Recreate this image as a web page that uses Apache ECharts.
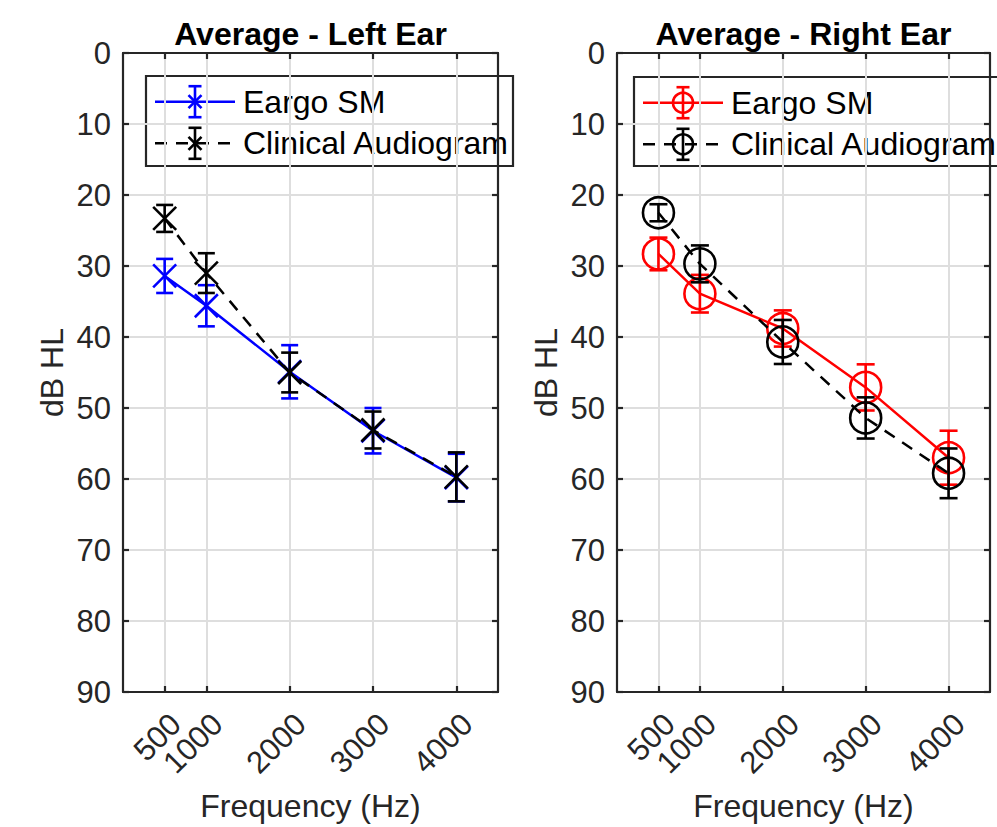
<!DOCTYPE html>
<html><head><meta charset="utf-8">
<script src="https://cdn.jsdelivr.net/npm/echarts@6/dist/echarts.min.js"></script>
<style>html,body{margin:0;padding:0;background:#fff}#c{width:997px;height:827px}</style>
</head><body><div id="c"></div>
<script>
// ---- data ----
const frequencies = [500, 1000, 2000, 3000, 4000];
const xTickValues = [500, 1000, 2000, 3000, 4000];
const leftEargo = [31.4, 35.6, 44.9, 53.2, 59.8];
const leftEargoErr = [2.4, 2.9, 3.75, 3.2, 3.35];
const leftClinical = [23.3, 31.0, 45.0, 53.1, 59.7];
const leftClinicalErr = [1.9, 2.8, 2.8, 2.6, 3.45];
const rightEargo = [28.3, 33.9, 38.8, 47.1, 57.0];
const rightEargoErr = [2.3, 2.65, 2.55, 3.25, 3.8];
const rightClinical = [22.5, 29.7, 40.7, 51.4, 59.2];
const rightClinicalErr = [1.2, 2.6, 3.1, 2.9, 3.5];
const titles = ['Average - Left Ear', 'Average - Right Ear'];
const seriesNames = ['Eargo SM', 'Clinical Audiogram'];
const xAxisName = 'Frequency (Hz)';
const yAxisName = 'dB HL';

// ---- styling ----
const FONT = "'Liberation Sans', Arial, Helvetica, sans-serif";
const AX = '#262626';
const GRIDC = '#dedede';
const grids = [
  {left: 123, top: 53, width: 375, height: 642},
  {left: 617, top: 53, width: 373, height: 642}
];

function pts(vals) { return frequencies.map((f, i) => [f, vals[i]]); }
function errPts(vals, errs) { return frequencies.map((f, i) => [f, vals[i], errs[i]]); }

function errRender(kind, color) {
  return function (params, api) {
    const x = api.value(0), y = api.value(1), e = api.value(2);
    const c = api.coord([x, y]);
    const t = api.coord([x, y - e]);
    const b = api.coord([x, y + e]);
    const cw = kind === 'x' ? 8.5 : 9;
    const st = {stroke: color, lineWidth: 2.6, fill: null};
    const ch = [
      {type: 'line', shape: {x1: c[0], y1: t[1], x2: c[0], y2: b[1]}, style: st},
      {type: 'line', shape: {x1: c[0] - cw, y1: t[1], x2: c[0] + cw, y2: t[1]}, style: st},
      {type: 'line', shape: {x1: c[0] - cw, y1: b[1], x2: c[0] + cw, y2: b[1]}, style: st}
    ];
    if (kind === 'x') {
      const s = 11.5;
      ch.push({type: 'line', shape: {x1: c[0] - s, y1: c[1] - s, x2: c[0] + s, y2: c[1] + s}, style: st});
      ch.push({type: 'line', shape: {x1: c[0] - s, y1: c[1] + s, x2: c[0] + s, y2: c[1] - s}, style: st});
    } else {
      ch.push({type: 'circle', shape: {cx: c[0], cy: c[1], r: 15.5}, style: {stroke: color, lineWidth: 2.6, fill: 'none'}});
    }
    return {type: 'group', children: ch};
  };
}

const labelStyle = {rotate: 45, align: 'right', verticalAlign: 'top', margin: 16,
  hideOverlap: false, formatter: v => String(v), fontSize: 31, color: AX, fontFamily: FONT};

const xAxes = [], yAxes = [], series = [], titleArr = [];
grids.forEach((g, i) => {
  // main bottom axis: line, ticks, grid, name and labels (1000..4000)
  xAxes.push({
    gridIndex: i, type: 'value', min: 0, max: 4500, position: 'bottom',
    name: xAxisName, nameLocation: 'middle', nameGap: 98,
    nameTextStyle: {fontSize: 32, color: AX, fontFamily: FONT},
    axisLine: {show: true, onZero: false, lineStyle: {color: AX, width: 2.2}},
    axisTick: {show: true, inside: true, length: 6, customValues: xTickValues, lineStyle: {color: AX, width: 2.2}},
    axisLabel: Object.assign({customValues: xTickValues.slice(1)}, labelStyle),
    splitLine: {show: true, lineStyle: {color: GRIDC, width: 2}}
  });
  // overlay bottom axis carrying only the first label (avoids automatic overlap hiding)
  xAxes.push({
    gridIndex: i, type: 'value', min: 0, max: 4500, position: 'bottom',
    axisLine: {show: false}, axisTick: {show: false}, splitLine: {show: false},
    axisLabel: Object.assign({customValues: xTickValues.slice(0, 1)}, labelStyle)
  });
  xAxes.push({
    gridIndex: i, type: 'value', min: 0, max: 4500, position: 'top',
    axisLine: {show: true, onZero: false, lineStyle: {color: AX, width: 2.2}},
    axisTick: {show: true, inside: true, length: 6, customValues: xTickValues, lineStyle: {color: AX, width: 2.2}},
    axisLabel: {show: false}, splitLine: {show: false}
  });
  yAxes.push({
    gridIndex: i, type: 'value', min: 0, max: 90, interval: 10, inverse: true, position: 'left',
    name: yAxisName, nameLocation: 'middle', nameGap: 55,
    nameTextStyle: {fontSize: 32, color: AX, fontFamily: FONT},
    axisLine: {show: true, onZero: false, lineStyle: {color: AX, width: 2.2}},
    axisTick: {show: true, inside: true, length: 6, lineStyle: {color: AX, width: 2.2}},
    axisLabel: {margin: 12, fontSize: 31, color: AX, fontFamily: FONT},
    splitLine: {show: true, lineStyle: {color: GRIDC, width: 2}}
  });
  yAxes.push({
    gridIndex: i, type: 'value', min: 0, max: 90, interval: 10, inverse: true, position: 'right',
    axisLine: {show: true, onZero: false, lineStyle: {color: AX, width: 2.2}},
    axisTick: {show: true, inside: true, length: 6, lineStyle: {color: AX, width: 2.2}},
    axisLabel: {show: false}, splitLine: {show: false}
  });
  titleArr.push({
    text: titles[i], left: g.left + g.width / 2, top: 18, textAlign: 'center', padding: 0,
    textStyle: {fontSize: 32, fontWeight: 'bold', color: '#000', fontFamily: FONT}
  });
});

const panels = [
  {eargo: leftEargo, eargoErr: leftEargoErr, clin: leftClinical, clinErr: leftClinicalErr, color: '#0000ff', kind: 'x'},
  {eargo: rightEargo, eargoErr: rightEargoErr, clin: rightClinical, clinErr: rightClinicalErr, color: '#ff0000', kind: 'o'}
];
panels.forEach((p, i) => {
  const xi = i * 3, yi = i * 2;
  series.push({name: seriesNames[0], type: 'line', xAxisIndex: xi, yAxisIndex: yi, data: pts(p.eargo),
    symbol: 'none', lineStyle: {color: p.color, width: 2.5}, z: 3, animation: false});
  series.push({name: seriesNames[0], type: 'custom', xAxisIndex: xi, yAxisIndex: yi, data: errPts(p.eargo, p.eargoErr),
    renderItem: errRender(p.kind, p.color), z: 4, animation: false, clip: false});
  series.push({name: seriesNames[1], type: 'line', xAxisIndex: xi, yAxisIndex: yi, data: pts(p.clin),
    symbol: 'none', lineStyle: {color: '#000', width: 2.5, type: [12, 9]}, z: 5, animation: false});
  series.push({name: seriesNames[1], type: 'custom', xAxisIndex: xi, yAxisIndex: yi, data: errPts(p.clin, p.clinErr),
    renderItem: errRender(p.kind, '#000'), z: 6, animation: false, clip: false});
});

// ---- legend boxes (drawn as graphics) ----
const legendBoxes = [
  {x: 146, y: 76, w: 367, h: 90, color: '#0000ff', kind: 'x', lineX: 9, textX: 97},
  {x: 634, y: 77, w: 367, h: 89, color: '#ff0000', kind: 'o', lineX: 9, textX: 97}
];
const graphics = [];
legendBoxes.forEach(L => {
  const els = [];
  els.push({type: 'rect', shape: {x: L.x, y: L.y, width: L.w, height: L.h},
    style: {fill: '#fff', stroke: AX, lineWidth: 2.2}});
  [0, 1].forEach(r => {
    const cy = L.y + 25.7 + r * 41.6;
    const col = r === 0 ? L.color : '#000';
    const x1 = L.x + L.lineX, x2 = x1 + 80, cx = x1 + 40;
    const st = {stroke: col, lineWidth: 2.6, fill: null};
    els.push({type: 'line', shape: {x1: x1, y1: cy, x2: x2, y2: cy},
      style: {stroke: col, lineWidth: 2.5, lineDash: r === 0 ? null : [12, 9]}});
    els.push({type: 'line', shape: {x1: cx, y1: cy - 15.5, x2: cx, y2: cy + 15.5}, style: st});
    els.push({type: 'line', shape: {x1: cx - 6.5, y1: cy - 15.5, x2: cx + 6.5, y2: cy - 15.5}, style: st});
    els.push({type: 'line', shape: {x1: cx - 6.5, y1: cy + 15.5, x2: cx + 6.5, y2: cy + 15.5}, style: st});
    if (L.kind === 'x') {
      const s = 6.5;
      els.push({type: 'line', shape: {x1: cx - s, y1: cy - s, x2: cx + s, y2: cy + s}, style: st});
      els.push({type: 'line', shape: {x1: cx - s, y1: cy + s, x2: cx + s, y2: cy - s}, style: st});
    } else {
      els.push({type: 'circle', shape: {cx: cx, cy: cy, r: 10}, style: {stroke: col, lineWidth: 2.6, fill: 'none'}});
    }
    els.push({type: 'text', x: L.x + L.textX, y: cy,
      style: {text: seriesNames[r], fontSize: 32, fontFamily: FONT, fill: '#000', textVerticalAlign: 'middle', verticalAlign: 'middle'}});
  });
  graphics.push({type: 'group', z: 100, children: els});
});

const chart = echarts.init(document.getElementById('c'), null, {renderer: 'svg'});
chart.setOption({
  backgroundColor: '#fff',
  animation: false,
  title: titleArr,
  grid: grids,
  xAxis: xAxes,
  yAxis: yAxes,
  series: series,
  graphic: graphics
});
</script></body></html>
